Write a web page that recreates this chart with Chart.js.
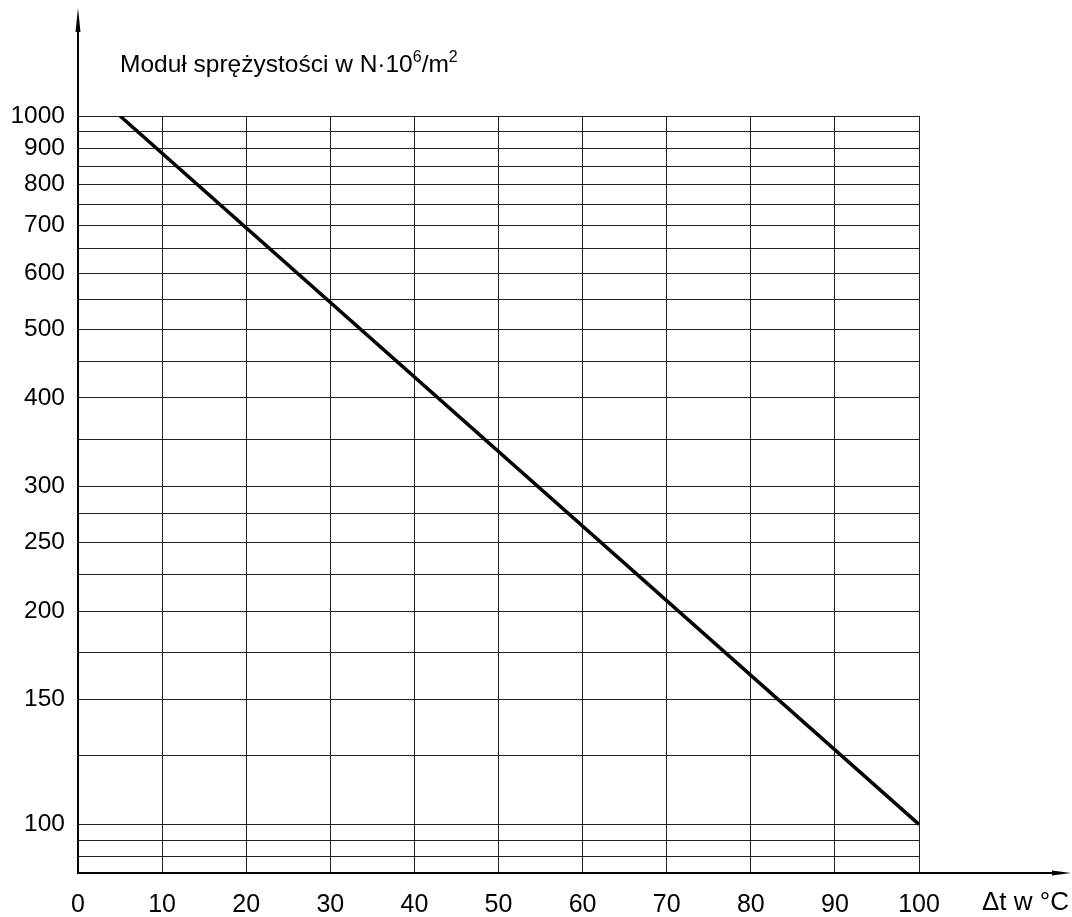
<!DOCTYPE html>
<html>
<head>
<meta charset="utf-8">
<script src="https://cdn.jsdelivr.net/npm/chart.js@4.4.1/dist/chart.umd.min.js"></script>
<style>
  html, body { margin: 0; padding: 0; background: #fff; }
  #wrap { width: 1072px; height: 917px; }
</style>
</head>
<body>
<div id="wrap"><canvas id="chart" width="1072" height="917"></canvas></div>
<script>
// data
const deltaT = [5, 100];
const modulus = [1000, 100];
const xTicks = [0, 10, 20, 30, 40, 50, 60, 70, 80, 90, 100];
const yGrid = [90, 95, 100, 125, 150, 175, 200, 225, 250, 275, 300, 350, 400, 450,
  500, 550, 600, 650, 700, 750, 800, 850, 900, 950, 1000];
const yLabels = [100, 150, 200, 250, 300, 400, 500, 600, 700, 800, 900, 1000];
const yMin = 85.4;
const yMax = 1000;

const FONT = "'Liberation Sans', Arial, sans-serif";

// axis arrows, title and x-axis name
const decorations = {
  id: 'decorations',
  afterDraw(chart) {
    const ctx = chart.ctx;
    const a = chart.chartArea;
    ctx.save();
    ctx.strokeStyle = '#000';
    ctx.fillStyle = '#000';
    ctx.lineWidth = 2;

    // y axis up to the arrow
    ctx.beginPath();
    ctx.moveTo(a.left, a.top);
    ctx.lineTo(a.left, 28);
    ctx.stroke();
    ctx.beginPath();
    ctx.moveTo(a.left, 8);
    ctx.lineTo(a.left - 2.5, 32);
    ctx.lineTo(a.left + 2.5, 32);
    ctx.closePath();
    ctx.fill();

    // x axis out to the arrow
    ctx.beginPath();
    ctx.moveTo(a.right, a.bottom);
    ctx.lineTo(1058, a.bottom);
    ctx.stroke();
    ctx.beginPath();
    ctx.moveTo(1071, a.bottom);
    ctx.lineTo(1052, a.bottom - 2.5);
    ctx.lineTo(1052, a.bottom + 2.5);
    ctx.closePath();
    ctx.fill();

    // title with superscripts
    ctx.textBaseline = 'alphabetic';
    ctx.textAlign = 'left';
    let x = a.left + 42;
    const base = 72;
    const parts = [
      ['Moduł sprężystości w N·10', 24.5, 0],
      ['6', 16, -10],
      ['/m', 24.5, 0],
      ['2', 16, -10]
    ];
    parts.forEach(([t, size, dy]) => {
      ctx.font = size + 'px ' + FONT;
      ctx.fillText(t, x, base + dy);
      x += ctx.measureText(t).width;
    });

    // x axis name
    ctx.font = '26px ' + FONT;
    ctx.textBaseline = 'middle';
    ctx.fillText('Δt w °C', 982, 903);
    ctx.restore();
  }
};

new Chart(document.getElementById('chart'), {
  type: 'scatter',
  data: {
    datasets: [{
      data: deltaT.map((x, i) => ({ x: x, y: modulus[i] })),
      showLine: true,
      borderColor: '#000',
      borderWidth: 3.5,
      pointRadius: 0,
      fill: false
    }]
  },
  options: {
    responsive: false,
    animation: false,
    layout: { padding: { top: 116, right: 153, left: 0, bottom: 0 } },
    plugins: {
      legend: { display: false },
      tooltip: { enabled: false }
    },
    scales: {
      x: {
        type: 'linear',
        min: 0,
        max: 100,
        afterBuildTicks: (scale) => { scale.ticks = xTicks.map(v => ({ value: v })); },
        afterFit: (scale) => { scale.height = 44; },
        grid: { color: '#222', lineWidth: 1, drawTicks: false },
        border: { display: true, color: '#000', width: 2 },
        ticks: {
          color: '#000',
          font: { family: FONT, size: 25 },
          padding: 17,
          maxRotation: 0,
          autoSkip: false
        }
      },
      y: {
        type: 'logarithmic',
        min: yMin,
        max: yMax,
        afterBuildTicks: (scale) => { scale.ticks = yGrid.map(v => ({ value: v })); },
        afterFit: (scale) => { scale.width = 78; },
        grid: { color: '#222', lineWidth: 1, drawTicks: false },
        border: { display: true, color: '#000', width: 2 },
        ticks: {
          color: '#000',
          font: { family: FONT, size: 24.5 },
          padding: 13,
          autoSkip: false,
          callback: (v) => yLabels.includes(v) ? String(v) : ''
        }
      }
    }
  },
  plugins: [decorations]
});
</script>
</body>
</html>
